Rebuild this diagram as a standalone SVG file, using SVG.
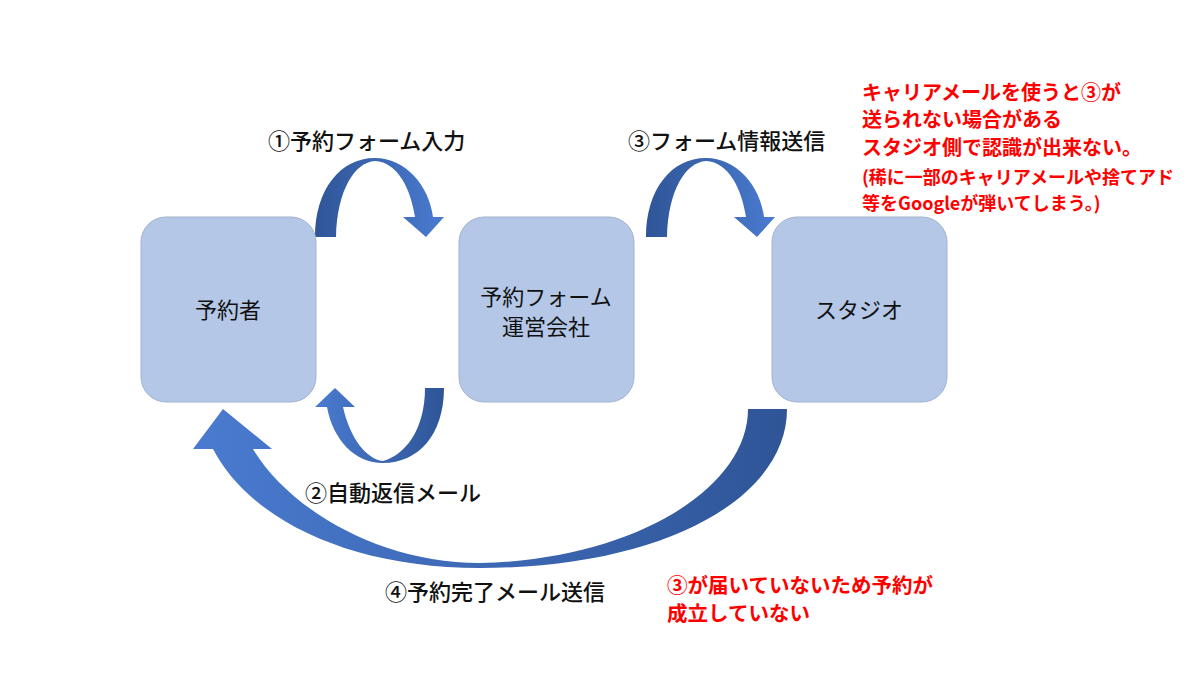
<svg xmlns="http://www.w3.org/2000/svg" width="1200" height="675" viewBox="0 0 1200 675">
<style>
.node{fill:#b4c7e7;stroke:#a3b3cf;stroke-width:1}
.nt{font-family:"Noto Sans CJK JP","Noto Sans",sans-serif;font-size:22px;fill:#111;text-anchor:middle}
.lb{font-family:"Noto Sans CJK JP","Noto Sans",sans-serif;font-size:22px;font-weight:500;fill:#111}
.rd{font-family:"Noto Sans CJK JP","Noto Sans",sans-serif;font-weight:bold;fill:#ff0000}
</style>
<defs>
<linearGradient id="gLR" x1="0" y1="0" x2="1" y2="0">
<stop offset="0" stop-color="#2f5597"/><stop offset="1" stop-color="#4a7bd0"/>
</linearGradient>
<linearGradient id="gRL" x1="0" y1="0" x2="1" y2="0">
<stop offset="0" stop-color="#4a7bd0"/><stop offset="1" stop-color="#2f5597"/>
</linearGradient>
</defs>
<rect width="1200" height="675" fill="#ffffff"/>
<g id="connectors">
<path id="arrow1" fill="url(#gLR)" d="M315,237 C315,190 340,158 375,158 C405,158 429,185 433,217 L444,217 L426,237 L403,217 L415,217 C411,190 398,162 375,161 C355,162 337,190 336,237 Z"/>
<path id="arrow3" fill="url(#gLR)" transform="translate(331,0)" d="M315,237 C315,190 340,158 375,158 C405,158 429,185 433,217 L444,217 L426,237 L403,217 L415,217 C411,190 398,162 375,161 C355,162 337,190 336,237 Z"/>
<path id="arrow2" fill="url(#gRL)" d="M444,388 C444,435 418,463 383,463 C355,463 333,440 327,407 L315,407 L335,388 L355,407 L343,407 C350,438 366,459 383,461 C405,455 425,430 425,388 Z"/>
<path id="arrow4" fill="url(#gRL)" d="M787,409 C787,500 660,568 480,568 C350,568 250,520 213,449 L193,449 L223,409 L272,449 L253,449 C290,510 380,563 480,563 C630,560 748,490 748,409 Z"/>
</g>
<g id="node-yoyakusha">
<rect class="node" x="141" y="217" width="175" height="185" rx="25"/>
<text class="nt" x="228" y="318">予約者</text>
</g>
<g id="node-form">
<rect class="node" x="459" y="217" width="175" height="185" rx="25"/>
<text class="nt"><tspan x="546" y="305">予約フォーム</tspan><tspan x="546" y="335">運営会社</tspan></text>
</g>
<g id="node-studio">
<rect class="node" x="772" y="217" width="175" height="185" rx="25"/>
<text class="nt" x="859" y="318">スタジオ</text>
</g>
<g id="labels">
<text class="lb" x="268" y="149">①予約フォーム入力</text>
<text class="lb" x="628" y="149">③フォーム情報送信</text>
<text class="lb" x="305" y="501">②自動返信メール</text>
<text class="lb" x="385" y="600">④予約完了メール送信</text>
</g>
<g id="notes">
<text class="rd" font-size="20"><tspan x="862" y="100">キャリアメールを使うと③が</tspan><tspan x="862" y="127">送られない場合がある</tspan><tspan x="862" y="155">スタジオ側で認識が出来ない。</tspan></text>
<text class="rd" font-size="18"><tspan x="862" y="184">(稀に一部のキャリアメールや捨てアド</tspan><tspan x="862" y="210">等をGoogleが弾いてしまう。)</tspan></text>
<text class="rd" font-size="20.5"><tspan x="667" y="593">③が届いていないため予約が</tspan><tspan x="667" y="621">成立していない</tspan></text>
</g>
</svg>
